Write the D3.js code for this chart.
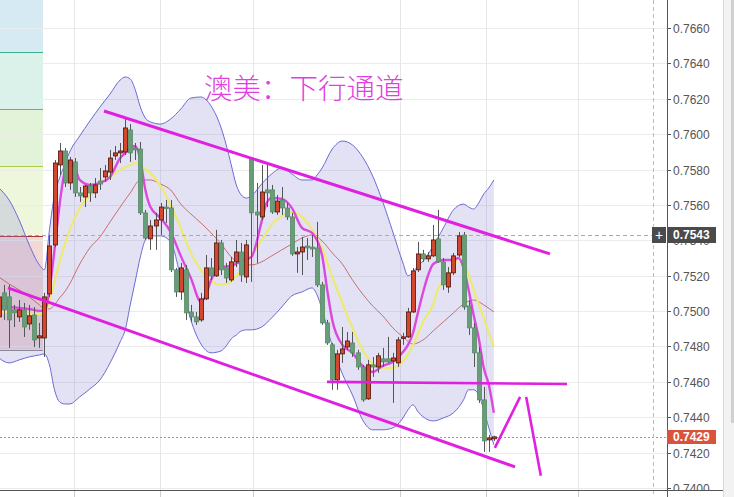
<!DOCTYPE html>
<html><head><meta charset="utf-8">
<script src="https://cdn.jsdelivr.net/npm/d3@7"></script>
<style>html,body{margin:0;padding:0;background:#fff;overflow:hidden}</style>
</head><body><svg id="c" width="734" height="497"></svg>
<script>
// ---------------- data ----------------
const opens  = [0.74967,0.75103,0.75080,0.75007,0.74967,0.75007,0.74927,0.74978,0.74848,0.74848,0.75097,0.75374,0.75826,0.75905,0.75724,0.75843,0.75668,0.75645,0.75707,0.75668,0.75735,0.75758,0.75786,0.75877,0.75894,0.75899,0.76024,0.75922,0.75916,0.75555,0.75408,0.75481,0.75515,0.75588,0.75583,0.75233,0.75108,0.75233,0.74995,0.74967,0.74950,0.75069,0.75244,0.75199,0.75385,0.75244,0.75176,0.75278,0.75334,0.75193,0.75865,0.75560,0.75532,0.75685,0.75685,0.75560,0.75628,0.75583,0.75532,0.75323,0.75334,0.75368,0.75362,0.75357,0.75148,0.74933,0.74809,0.74611,0.74758,0.74797,0.74820,0.74764,0.74684,0.74504,0.74696,0.74684,0.74730,0.74730,0.74718,0.74707,0.74848,0.74854,0.74995,0.75233,0.75323,0.75295,0.75312,0.75408,0.75278,0.75136,0.75216,0.75317,0.75430,0.75029,0.74905,0.74764,0.74498,0.74272,0.74278];
const highs  = [0.75120,0.75148,0.75148,0.75035,0.75063,0.75046,0.75035,0.75023,0.74933,0.75103,0.75430,0.75854,0.75950,0.75922,0.75871,0.75865,0.75701,0.75713,0.75724,0.75752,0.75809,0.75826,0.75911,0.75933,0.75950,0.76097,0.76057,0.75950,0.75956,0.75572,0.75515,0.75555,0.75611,0.75628,0.75628,0.75244,0.75272,0.75261,0.75035,0.74995,0.75103,0.75317,0.75300,0.75459,0.75402,0.75272,0.75306,0.75402,0.75385,0.75402,0.75871,0.75724,0.75826,0.75826,0.75713,0.75656,0.75701,0.75611,0.75555,0.75362,0.75419,0.75413,0.75430,0.75504,0.75165,0.74950,0.74820,0.74781,0.74910,0.74882,0.74882,0.74781,0.74696,0.74724,0.74741,0.74764,0.74792,0.74854,0.74764,0.74854,0.74877,0.75018,0.75244,0.75391,0.75346,0.75334,0.75487,0.75572,0.75300,0.75249,0.75329,0.75447,0.75447,0.75063,0.74933,0.74797,0.74571,0.74300,0.74295];
const lows   = [0.74922,0.74950,0.74792,0.74910,0.74939,0.74854,0.74894,0.74797,0.74792,0.74741,0.75080,0.75362,0.75769,0.75701,0.75685,0.75645,0.75617,0.75588,0.75617,0.75639,0.75685,0.75730,0.75741,0.75854,0.75837,0.75882,0.75843,0.75854,0.75543,0.75402,0.75346,0.75346,0.75430,0.75498,0.75221,0.75080,0.75063,0.74950,0.74939,0.74922,0.74939,0.75063,0.75176,0.75193,0.75204,0.75159,0.75165,0.75249,0.75165,0.75159,0.75165,0.75272,0.75515,0.75588,0.75549,0.75543,0.75543,0.75515,0.75312,0.75216,0.75204,0.75289,0.75306,0.75136,0.74922,0.74809,0.74555,0.74555,0.74707,0.74781,0.74741,0.74668,0.74487,0.74498,0.74628,0.74651,0.74684,0.74707,0.74481,0.74684,0.74809,0.74848,0.74990,0.75221,0.75278,0.75278,0.75306,0.75272,0.75120,0.75103,0.75204,0.75306,0.75007,0.74865,0.74684,0.74481,0.74204,0.74204,0.74266];
const closes = [0.75080,0.75007,0.74950,0.74990,0.75007,0.74910,0.74973,0.74837,0.74860,0.75080,0.75368,0.75837,0.75905,0.75724,0.75854,0.75668,0.75651,0.75707,0.75668,0.75713,0.75718,0.75792,0.75865,0.75894,0.75905,0.76035,0.75894,0.75911,0.75555,0.75413,0.75481,0.75515,0.75588,0.75583,0.75233,0.75108,0.75244,0.74990,0.74967,0.74939,0.75069,0.75244,0.75199,0.75385,0.75233,0.75187,0.75278,0.75334,0.75204,0.75374,0.75555,0.75543,0.75673,0.75668,0.75560,0.75622,0.75583,0.75532,0.75323,0.75334,0.75362,0.75357,0.75351,0.75148,0.74933,0.74820,0.74611,0.74758,0.74786,0.74831,0.74764,0.74684,0.74498,0.74696,0.74684,0.74747,0.74713,0.74713,0.74735,0.74837,0.74854,0.74995,0.75227,0.75323,0.75295,0.75312,0.75402,0.75278,0.75148,0.75216,0.75312,0.75425,0.75023,0.74905,0.74764,0.74498,0.74266,0.74283,0.74289];

// Bollinger band (bar index, price)
const bandIdx   = [0,2,4,6,8,9,10,11,12,13,14,16,18,20,22,24,25,26,27,28,29,30,32,34,36,38,40,42,44,45,46,47,48,49,50,52,54,56,58,60,62,63,64,66,68,70,72,74,76,78,80,81,82,83,84,86,88,90,92,93,94,95,96,97,98];
const bandUpper = [0.75696,0.75628,0.75515,0.75374,0.75261,0.75233,0.75459,0.75656,0.75752,0.75826,0.75899,0.75990,0.76074,0.76153,0.76227,0.76306,0.76323,0.76312,0.76250,0.76153,0.76091,0.76069,0.76057,0.76086,0.76142,0.76204,0.76210,0.76159,0.76035,0.75939,0.75826,0.75713,0.75656,0.75639,0.75651,0.75718,0.75775,0.75809,0.75775,0.75741,0.75741,0.75769,0.75809,0.75916,0.75961,0.75939,0.75871,0.75764,0.75617,0.75447,0.75272,0.75199,0.75221,0.75255,0.75283,0.75368,0.75470,0.75572,0.75605,0.75588,0.75577,0.75611,0.75662,0.75696,0.75741];
const bandLower = [0.74735,0.74707,0.74724,0.74741,0.74752,0.74758,0.74696,0.74555,0.74487,0.74475,0.74475,0.74515,0.74560,0.74611,0.74707,0.74826,0.74894,0.75035,0.75170,0.75306,0.75402,0.75425,0.75425,0.75391,0.75187,0.74950,0.74814,0.74764,0.74775,0.74803,0.74843,0.74865,0.74888,0.74894,0.74894,0.74910,0.74961,0.75023,0.75086,0.75108,0.75131,0.75091,0.75007,0.74803,0.74645,0.74526,0.74385,0.74329,0.74329,0.74340,0.74396,0.74442,0.74470,0.74430,0.74402,0.74379,0.74396,0.74425,0.74498,0.74555,0.74555,0.74526,0.74442,0.74340,0.74244];

// moving averages ([bar index, price])
const maFast = [[0,0.75029],[2,0.75023],[4,0.75018],[6,0.75012],[8,0.75001],[9,0.75001],[10,0.75120],[11,0.75346],[12,0.75600],[13,0.75786],[14,0.75843],[15,0.75814],[16,0.75741],[18,0.75713],[20,0.75724],[22,0.75758],[24,0.75865],[25,0.75894],[26,0.75922],[27,0.75933],[28,0.75854],[29,0.75685],[30,0.75588],[32,0.75526],[34,0.75447],[36,0.75312],[38,0.75187],[40,0.75052],[41,0.75091],[42,0.75176],[44,0.75249],[46,0.75255],[48,0.75283],[50,0.75306],[52,0.75504],[53,0.75611],[54,0.75639],[56,0.75634],[58,0.75583],[60,0.75470],[62,0.75442],[64,0.75312],[65,0.75120],[66,0.74950],[68,0.74809],[70,0.74764],[72,0.74690],[74,0.74656],[76,0.74690],[78,0.74713],[80,0.74769],[81,0.74809],[82,0.74877],[83,0.74995],[84,0.75108],[85,0.75204],[86,0.75266],[88,0.75289],[90,0.75289],[91,0.75300],[92,0.75244],[93,0.75120],[94,0.74978],[95,0.74848],[96,0.74679],[97,0.74583],[98,0.74425]];
const maMid = [[0,0.74995],[4,0.74990],[8,0.74984],[9,0.74990],[10,0.75063],[11,0.75165],[12,0.75278],[13,0.75374],[14,0.75459],[16,0.75583],[18,0.75656],[20,0.75724],[22,0.75758],[24,0.75798],[26,0.75826],[27,0.75837],[28,0.75820],[30,0.75781],[32,0.75707],[34,0.75600],[36,0.75470],[38,0.75329],[40,0.75233],[42,0.75170],[44,0.75148],[46,0.75170],[48,0.75233],[50,0.75312],[52,0.75402],[54,0.75487],[56,0.75538],[58,0.75560],[60,0.75532],[62,0.75464],[64,0.75357],[66,0.75193],[68,0.75046],[70,0.74905],[72,0.74781],[74,0.74701],[76,0.74679],[78,0.74679],[80,0.74713],[82,0.74809],[84,0.74939],[86,0.75040],[87,0.75131],[88,0.75159],[90,0.75244],[91,0.75300],[92,0.75278],[94,0.75120],[96,0.74961],[98,0.74797]];
const maSlow = [[0,0.75193],[2,0.75153],[4,0.75120],[6,0.75080],[8,0.75035],[9,0.75012],[10,0.75012],[11,0.75035],[12,0.75074],[13,0.75108],[14,0.75153],[16,0.75266],[18,0.75357],[20,0.75419],[22,0.75504],[24,0.75588],[26,0.75668],[28,0.75741],[30,0.75741],[32,0.75718],[34,0.75685],[36,0.75605],[38,0.75549],[40,0.75498],[42,0.75442],[44,0.75379],[46,0.75306],[48,0.75266],[50,0.75261],[52,0.75278],[54,0.75312],[56,0.75346],[58,0.75379],[60,0.75413],[62,0.75430],[64,0.75396],[66,0.75329],[68,0.75266],[70,0.75176],[72,0.75097],[74,0.75029],[76,0.74973],[78,0.74905],[80,0.74854],[82,0.74814],[84,0.74837],[86,0.74888],[88,0.74939],[90,0.74990],[92,0.75040],[94,0.75063],[96,0.75035],[98,0.74995]];

// price axis ticks
const priceTicks = [0.7400,0.7420,0.7440,0.7460,0.7480,0.7500,0.7520,0.7540,0.7560,0.7580,0.7600,0.7620,0.7640,0.7660];
const markPrice = 0.7543;   // crosshair price
const lastPrice = 0.7429;   // last price
// Fibonacci levels (price) and end bar
const fibLevels = [0.74781,0.75425,0.75820,0.76142,0.76464,0.76928];
const fibEnd = 8.72;
// time separators (bar index)
const xGrid = [14.85,31.9,50.3,79.4,96.45,114.65];
// drawn lines ([bar, price] pairs)
const channelTop = [[20.8,0.76131],[109.1,0.75323]];
const channelBottom = [[1.79,0.75131],[102.2,0.74119]];
const supportLine = [[64.96,0.74600],[112.5,0.74588]];
const projUp = [[98.2,0.74227],[103.2,0.74515]];
const projDown = [[104.4,0.74515],[107.3,0.74069]];
const title = "澳美：下行通道";

// ---------------- drawing ----------------
const svg = d3.select("#c");
const x = d3.scaleLinear().domain([0, 98]).range([-1.05, 493.85]);
const y = d3.scaleLinear().domain([0.7400, 0.7660]).range([488, 28]);
const axisX = 667, bottomY = 490;

svg.append("rect").attr("width",734).attr("height",497).attr("fill","#fff");
svg.append("clipPath").attr("id","clip").append("rect").attr("x",0).attr("y",0).attr("width",axisX).attr("height",bottomY);
const g = svg.append("g").attr("clip-path","url(#clip)");

// fib zones
const fibFill = ["#f3d9d6","#eef6dc","#e2f3da","#dbf2ea","#d6eaf3"];
const fibLine = ["#8a8a8a","#a83434","#a6cf4a","#5cbf5c","#3db28a","#3db28a"];
for (let k=0;k<fibLevels.length-1;k++){
  g.append("rect").attr("x",0).attr("width",x(fibEnd)).attr("y",y(fibLevels[k+1])).attr("height",y(fibLevels[k])-y(fibLevels[k+1])).attr("fill",fibFill[k]);
}
fibLevels.forEach((p,k)=>{
  g.append("line").attr("x1",0).attr("x2",x(fibEnd)).attr("y1",Math.round(y(p))+0.5).attr("y2",Math.round(y(p))+0.5).attr("stroke",fibLine[k]).attr("stroke-width",1);
});

// grid
priceTicks.forEach(p=>{
  g.append("line").attr("x1",0).attr("x2",axisX).attr("y1",Math.round(y(p))+0.5).attr("y2",Math.round(y(p))+0.5).attr("stroke","#ebebeb");
});
xGrid.forEach(b=>{
  g.append("line").attr("x1",Math.round(x(b))+0.5).attr("x2",Math.round(x(b))+0.5).attr("y1",0).attr("y2",bottomY).attr("stroke","#e6e6e6");
});

// band
const band = bandIdx.map((b,k)=>({b, u:bandUpper[k], l:bandLower[k]}));
g.append("path").datum(band)
  .attr("d", d3.area().x(d=>x(d.b)).y0(d=>y(d.l)).y1(d=>y(d.u)).curve(d3.curveMonotoneX))
  .attr("fill","rgb(140,140,210)").attr("fill-opacity",0.25);
["u","l"].forEach(k=>{
  g.append("path").datum(band)
    .attr("d", d3.line().x(d=>x(d.b)).y(d=>y(d[k])).curve(d3.curveMonotoneX))
    .attr("fill","none").attr("stroke","#6b6bd6").attr("stroke-width",1);
});

// MAs
const ln = d3.line().x(d=>x(d[0])).y(d=>y(d[1])).curve(d3.curveMonotoneX);
g.append("path").attr("d",ln(maSlow)).attr("fill","none").attr("stroke","#c25a5a").attr("stroke-width",1).attr("stroke-opacity",0.85);
g.append("path").attr("d",ln(maMid)).attr("fill","none").attr("stroke","#eeea70").attr("stroke-width",2.2);
g.append("path").attr("d",ln(maFast)).attr("fill","none").attr("stroke","#dc48dc").attr("stroke-width",2.4);

// dashed reference lines
g.append("line").attr("x1",0).attr("x2",652).attr("y1",Math.round(y(markPrice))+0.5).attr("y2",Math.round(y(markPrice))+0.5)
  .attr("stroke","#aaa").attr("stroke-dasharray","4,3");
g.append("line").attr("x1",0).attr("x2",axisX).attr("y1",Math.round(y(lastPrice))+0.5).attr("y2",Math.round(y(lastPrice))+0.5)
  .attr("stroke","#e08070").attr("stroke-dasharray","2,2");

// candles
const candles = opens.map((o,i)=>({i,o,h:highs[i],l:lows[i],c:closes[i]}));
const cg = g.append("g");
cg.selectAll("line.w").data(candles).join("line")
  .attr("x1",d=>Math.round(x(d.i))+0.5).attr("x2",d=>Math.round(x(d.i))+0.5)
  .attr("y1",d=>y(d.h)).attr("y2",d=>y(d.l)).attr("stroke","#555").attr("stroke-width",1);
cg.selectAll("rect.b").data(candles).join("rect")
  .attr("x",d=>Math.round(x(d.i))-1.5).attr("width",4)
  .attr("y",d=>y(Math.max(d.o,d.c))).attr("height",d=>Math.max(1.5,Math.abs(y(d.o)-y(d.c))))
  .attr("fill",d=>d.c>=d.o?"#d4472f":"#679d77")
  .attr("stroke",d=>d.c>=d.o?"#4a1208":"#5a8a68").attr("stroke-width",0.8);

// drawn trend lines
[channelTop, channelBottom].forEach(s=>{
  g.append("path").attr("d",d3.line().x(d=>x(d[0])).y(d=>y(d[1]))(s)).attr("stroke","#e020e0").attr("stroke-width",3).attr("fill","none");
});
[supportLine, projUp, projDown].forEach(s=>{
  g.append("path").attr("d",d3.line().x(d=>x(d[0])).y(d=>y(d[1]))(s)).attr("stroke","#e020e0").attr("stroke-width",2.6).attr("fill","none");
});

// title
g.append("text").attr("x",204).attr("y",86).attr("dominant-baseline","central")
  .attr("font-family","'Noto Sans CJK SC','Noto Sans CJK JP',sans-serif").attr("font-size",28.5).attr("font-weight",300)
  .attr("fill","#e040e0").text(title);

// crosshair vertical
svg.append("line").attr("x1",653.5).attr("x2",653.5).attr("y1",0).attr("y2",497).attr("stroke","#bbb").attr("stroke-dasharray","4,3");

// axes
svg.append("line").attr("x1",0).attr("x2",723).attr("y1",bottomY+0.5).attr("y2",bottomY+0.5).attr("stroke","#555");
xGrid.forEach(b=>{
  svg.append("line").attr("x1",Math.round(x(b))+0.5).attr("x2",Math.round(x(b))+0.5).attr("y1",bottomY+1).attr("y2",497).attr("stroke","#ccc");
});
svg.append("line").attr("x1",axisX+0.5).attr("x2",axisX+0.5).attr("y1",0).attr("y2",497).attr("stroke","#555");
const my = Math.round(y(markPrice));
// tick labels: clipped so the part covered by the price marker is hidden
const axc = svg.append("clipPath").attr("id","axclip");
axc.append("rect").attr("x",axisX).attr("y",0).attr("width",60).attr("height",my-8);
axc.append("rect").attr("x",axisX).attr("y",my+8).attr("width",60).attr("height",bottomY-my-8);
const ag = svg.append("g").attr("clip-path","url(#axclip)");
priceTicks.forEach(p=>{
  const yy = Math.round(y(p))+0.5;
  ag.append("line").attr("x1",axisX).attr("x2",axisX+4).attr("y1",yy).attr("y2",yy).attr("stroke","#555");
  ag.append("text").attr("x",axisX+6).attr("y",yy).attr("dominant-baseline","central")
    .attr("font-family","'Liberation Sans',Arial,sans-serif").attr("font-size",12).attr("fill","#555")
    .text(d3.format(".4f")(p));
});

// mark price box
svg.append("rect").attr("x",652).attr("y",my-8).attr("width",14).attr("height",16).attr("fill","#4b4b4b");
svg.append("text").attr("x",659).attr("y",my).attr("text-anchor","middle").attr("dominant-baseline","central")
  .attr("font-family","'Liberation Sans',Arial,sans-serif").attr("font-size",14).attr("fill","#fff").text("+");
svg.append("rect").attr("x",668).attr("y",my-8).attr("width",48).attr("height",16).attr("fill","#4b4b4b");
svg.append("text").attr("x",673).attr("y",my).attr("dominant-baseline","central")
  .attr("font-family","'Liberation Sans',Arial,sans-serif").attr("font-size",12).attr("font-weight","bold").attr("fill","#fff").text(d3.format(".4f")(markPrice));
// last price box
const ly = Math.round(y(lastPrice));
svg.append("rect").attr("x",667).attr("y",ly-7).attr("width",49).attr("height",14).attr("fill","#d9533b");
svg.append("text").attr("x",673).attr("y",ly).attr("dominant-baseline","central")
  .attr("font-family","'Liberation Sans',Arial,sans-serif").attr("font-size",12).attr("font-weight","bold").attr("fill","#fff").text(d3.format(".4f")(lastPrice));

// scrollbar strip
svg.append("rect").attr("x",723).attr("y",0).attr("width",11).attr("height",497).attr("fill","#f2f2f2");
svg.append("line").attr("x1",723.5).attr("x2",723.5).attr("y1",0).attr("y2",497).attr("stroke","#d8d8d8");
svg.append("rect").attr("x",731).attr("y",0).attr("width",3).attr("height",423).attr("fill","#d0d0d0");
</script></body></html>
